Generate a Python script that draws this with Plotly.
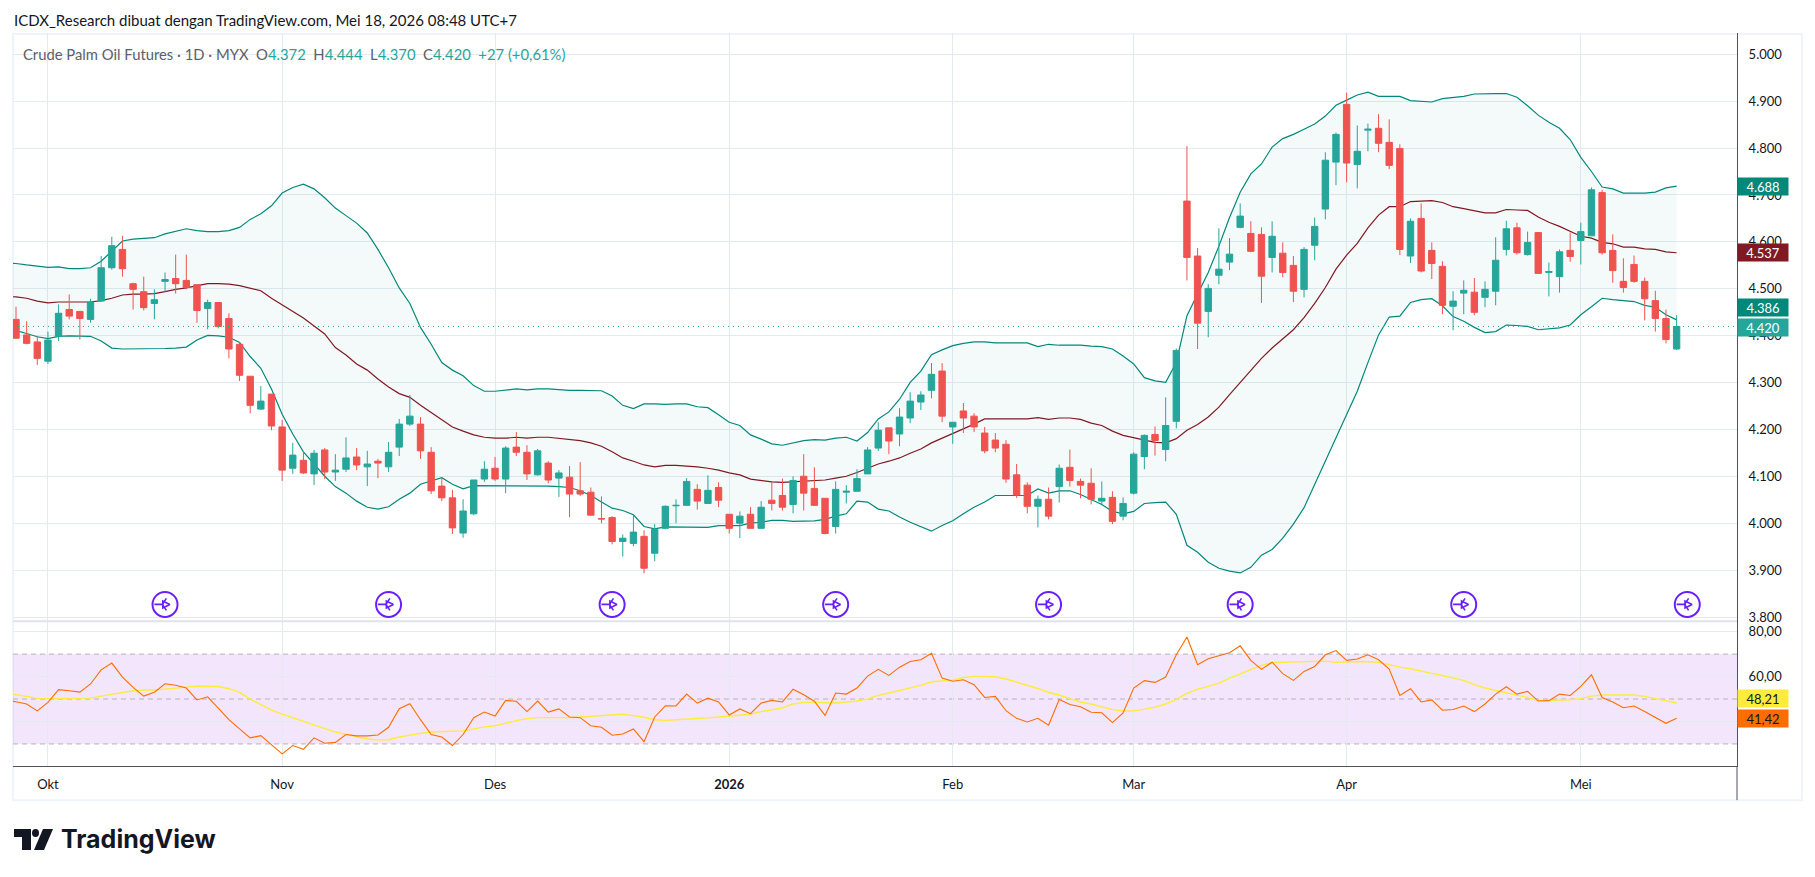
import plotly.graph_objects as go

W, H = 1815, 877
FONT = "Lato"
Y_STRETCH = 1.0035

# candles, values
open_p = [4435,4402,4387,4346,4399,4456,4452,4435,4474,4545,4584,4511,4494,4469,4516,4522,4518,4509,4458,4471,
          4437,4382,4314,4244,4276,4206,4118,4135,4106,4157,4110,4116,4142,4121,4133,4121,4163,4212,4212,4152,
          4080,4055,3980,4021,4095,4118,4095,4163,4152,4104,4129,4097,4099,4070,4067,4011,4013,3962,3958,3973,
          3937,3990,4038,4039,4073,4043,4077,4020,4001,4020,3990,4050,4060,4041,4101,4075,4054,3994,4067,4069,
          4106,4161,4204,4191,4225,4259,4284,4325,4206,4240,4229,4193,4178,4169,4104,4082,4037,4052,4079,4120,
          4090,4086,4048,4056,4016,4065,4143,4190,4158,4218,4687,4570,4452,4529,4557,4631,4618,4616,4567,4576,
          4550,4499,4593,4670,4770,4893,4765,4838,4842,4812,4799,4570,4650,4582,4548,4463,4491,4493,4482,4495,
          4584,4630,4573,4620,4535,4526,4582,4603,4613,4705,4582,4516,4552,4516,4475,4437,4372]
high_p = [4462,4431,4400,4409,4467,4488,4453,4479,4570,4611,4613,4513,4526,4499,4535,4573,4573,4509,4477,4471,
          4448,4387,4314,4293,4276,4221,4172,4152,4157,4161,4148,4184,4161,4155,4138,4174,4223,4274,4227,4163,
          4099,4072,4052,4093,4133,4142,4165,4195,4167,4159,4133,4114,4123,4131,4077,4058,4016,3977,4018,3986,
          3999,4039,4052,4097,4084,4103,4088,4020,4026,4035,4048,4088,4096,4101,4148,4120,4054,4090,4082,4116,
          4163,4216,4204,4246,4280,4282,4342,4342,4216,4257,4235,4206,4193,4178,4127,4088,4060,4077,4126,4158,
          4096,4118,4090,4069,4056,4152,4190,4207,4269,4373,4804,4587,4510,4629,4608,4682,4644,4631,4644,4599,
          4570,4589,4652,4791,4833,4918,4848,4852,4872,4861,4808,4650,4682,4599,4559,4495,4518,4523,4516,4610,
          4645,4641,4622,4620,4556,4584,4620,4641,4716,4711,4616,4565,4571,4524,4496,4456,4444]
low_p = [4393,4382,4338,4340,4389,4435,4392,4428,4472,4541,4526,4456,4454,4435,4494,4490,4499,4428,4414,4416,
         4352,4304,4235,4242,4199,4091,4106,4106,4082,4095,4091,4110,4114,4080,4097,4110,4144,4208,4138,4063,
         4048,3978,3970,4018,4089,4091,4065,4144,4093,4102,4086,4057,4014,4059,4018,4001,3956,3930,3952,3894,
         3920,3988,4001,4039,4030,4043,4035,3979,3969,3990,3990,4028,4028,4022,4028,4039,3977,3979,4043,4069,
         4106,4155,4148,4165,4214,4242,4267,4216,4170,4193,4195,4150,4152,4087,4055,4022,3992,4009,4045,4079,
         4054,4041,4041,3999,4007,4062,4116,4145,4133,4203,4518,4372,4397,4510,4540,4629,4578,4470,4535,4525,
         4472,4482,4561,4648,4721,4727,4714,4793,4791,4755,4572,4555,4535,4521,4446,4412,4446,4444,4461,4465,
         4571,4573,4571,4533,4484,4492,4558,4552,4613,4573,4513,4492,4513,4433,4409,4384,4370]
close_p = [4395,4384,4352,4391,4448,4442,4437,4472,4545,4592,4543,4499,4460,4477,4520,4511,4503,4454,4471,4420,
           4372,4316,4252,4261,4208,4114,4146,4108,4150,4110,4114,4140,4125,4127,4129,4152,4212,4229,4155,4070,
           4055,3991,4027,4093,4116,4095,4161,4152,4106,4155,4093,4108,4063,4063,4018,4010,3962,3969,3982,3905,
           3988,4037,4039,4090,4048,4071,4050,3990,4016,3990,4035,4043,4035,4092,4065,4039,3979,4073,4069,4096,
           4157,4199,4176,4227,4261,4274,4318,4229,4216,4225,4206,4155,4161,4095,4061,4037,4052,4016,4118,4092,
           4082,4052,4054,4005,4043,4148,4188,4177,4209,4369,4567,4427,4501,4542,4574,4655,4580,4527,4612,4535,
           4495,4584,4633,4774,4829,4768,4793,4840,4810,4763,4584,4644,4538,4554,4465,4474,4497,4450,4499,4561,
           4628,4577,4599,4533,4537,4579,4569,4622,4711,4577,4539,4503,4516,4479,4437,4392,4420]

# bollinger, first value belongs to the bar just left of the chart edge
bb_upper = [4555,4554,4551,4548,4546,4547,4543,4543,4545,4559,4580,4602,4606,4607,4609,4617,4623,4628,4624,4622,
            4622,4624,4631,4648,4660,4677,4704,4716,4723,4713,4694,4672,4656,4640,4619,4584,4545,4502,4469,4418,
            4382,4343,4327,4315,4294,4282,4282,4285,4287,4285,4287,4287,4285,4284,4284,4284,4283,4272,4252,4245,
            4255,4255,4254,4255,4255,4249,4247,4232,4216,4209,4189,4180,4170,4167,4172,4177,4179,4178,4182,4184,
            4176,4194,4223,4238,4265,4301,4325,4360,4370,4379,4384,4387,4387,4385,4385,4385,4385,4377,4382,4380,
            4380,4380,4378,4377,4372,4357,4340,4311,4304,4301,4343,4443,4489,4535,4591,4652,4706,4745,4766,4802,
            4820,4829,4840,4851,4868,4891,4902,4913,4919,4910,4910,4910,4901,4899,4898,4905,4908,4910,4915,4916,
            4916,4916,4908,4890,4870,4855,4842,4818,4780,4750,4717,4713,4704,4704,4704,4706,4715,4719]
bb_basis = [4484,4483,4480,4474,4470,4472,4472,4472,4472,4475,4480,4487,4489,4489,4490,4494,4499,4502,4507,4511,
            4511,4510,4507,4501,4496,4480,4466,4453,4438,4421,4404,4375,4359,4340,4327,4308,4291,4277,4269,4252,
            4237,4221,4206,4197,4189,4184,4182,4182,4184,4182,4184,4184,4182,4179,4177,4172,4165,4153,4140,4133,
            4125,4121,4124,4124,4123,4121,4118,4114,4108,4104,4095,4092,4089,4088,4089,4091,4092,4093,4097,4101,
            4109,4118,4127,4133,4140,4150,4159,4172,4182,4191,4201,4212,4223,4223,4223,4223,4223,4226,4222,4225,
            4225,4222,4214,4209,4197,4188,4183,4177,4173,4172,4181,4199,4211,4227,4248,4275,4300,4327,4352,4374,
            4394,4413,4439,4469,4503,4542,4572,4597,4630,4657,4675,4675,4686,4687,4688,4684,4675,4671,4667,4662,
            4662,4669,4668,4667,4653,4642,4633,4623,4612,4608,4599,4596,4589,4589,4585,4584,4579,4577]
bb_lower = [4412,4411,4405,4398,4394,4399,4400,4400,4399,4389,4374,4372,4372,4372,4373,4373,4374,4376,4391,4401,
            4400,4397,4386,4356,4331,4287,4233,4191,4153,4126,4101,4079,4065,4048,4035,4031,4036,4052,4065,4084,
            4091,4098,4084,4074,4081,4081,4080,4080,4081,4080,4081,4080,4079,4077,4070,4060,4046,4033,4028,4019,
            3994,3989,3993,3993,3993,3992,3992,3996,3996,3996,4001,4003,4007,4007,4005,4005,4006,4009,4016,4021,
            4048,4046,4031,4027,4014,4003,3994,3984,3996,4006,4021,4035,4046,4060,4060,4060,4060,4074,4065,4070,
            4070,4062,4052,4041,4026,4021,4026,4043,4045,4046,4020,3954,3939,3918,3905,3899,3895,3907,3933,3945,
            3969,3999,4034,4084,4133,4183,4233,4282,4343,4402,4440,4442,4471,4477,4479,4464,4441,4431,4418,4407,
            4409,4423,4422,4420,4413,4415,4417,4423,4445,4462,4480,4477,4475,4473,4465,4461,4445,4434]

# rsi pane
rsi = [49.3,48.8,47.8,44.7,48.5,54.2,53.7,53.1,56.7,63.0,66.0,59.8,55.2,51.3,53.0,56.8,56.1,54.9,49.6,51.0,
       46.0,40.8,36.7,32.7,33.7,29.7,25.6,29.3,27.6,32.7,30.3,30.7,34.2,33.6,33.6,34.0,37.4,45.7,47.9,40.8,
       34.2,33.1,29.3,34.2,41.7,44.2,42.4,49.4,49.0,44.4,49.1,44.2,45.6,42.0,41.7,38.1,37.4,33.9,34.4,36.7,
       31.0,42.0,47.0,46.9,52.2,48.2,50.4,48.7,42.9,45.6,43.5,48.2,49.4,48.7,54.4,51.9,49.0,42.7,52.7,52.2,
       54.9,60.2,63.2,60.5,64.2,66.7,67.5,70.4,59.3,57.9,58.6,56.4,50.7,51.2,44.8,41.4,39.8,41.4,38.3,49.8,
       47.6,46.6,44.1,43.9,39.5,43.8,54.9,58.2,57.4,59.8,69.7,77.6,65.3,67.9,69.4,70.6,73.7,67.2,63.2,66.4,
       61.3,58.3,62.3,64.5,69.7,71.6,67.2,67.8,69.7,67.5,63.3,51.6,54.6,48.7,49.6,45.0,45.3,46.9,44.4,47.8,
       52.2,55.5,52.2,53.4,49.1,49.3,52.2,51.6,55.6,60.8,50.7,48.7,46.1,46.9,44.4,41.7,39.2,41.42]
rsi_ma = [52.2,51.9,51.2,50.3,50.2,50.2,50.3,50.3,50.4,51.3,52.2,52.8,53.7,54.0,54.0,54.4,54.7,55.3,55.8,55.8,
          55.6,54.6,53.0,50.0,47.5,45.1,43.3,41.7,40.1,38.4,36.8,35.3,34.3,33.3,32.2,31.8,31.9,33.1,34.0,34.7,
          35.3,35.5,35.6,35.8,36.7,37.6,38.1,39.3,40.4,41.3,41.7,41.7,41.6,41.7,42.0,42.3,42.7,43.2,43.2,42.6,
          41.9,40.8,40.5,40.8,41.0,41.1,41.6,42.0,42.3,42.6,43.2,44.4,45.3,46.0,47.8,48.5,48.5,48.2,48.2,48.7,
          49.1,50.0,51.6,52.7,53.8,54.9,56.1,57.7,58.0,58.4,59.6,60.1,60.1,59.9,58.9,57.6,56.2,54.7,52.9,51.8,
          50.2,48.7,47.8,46.6,45.3,44.7,44.8,45.4,46.4,47.8,49.8,52.5,54.4,55.6,57.1,59.3,61.1,63.0,65.0,66.3,
          66.4,66.6,66.9,67.0,66.9,66.4,66.6,66.7,66.6,66.3,65.3,64.2,63.5,62.3,61.4,60.5,59.3,58.3,56.4,54.9,
          53.8,52.8,51.6,50.7,49.4,49.3,49.6,49.7,50.2,51.3,51.8,51.8,51.8,51.8,51.2,50.2,49.3,48.21]

assert len(open_p) == len(high_p) == len(low_p) == len(close_p) == 157
assert len(bb_upper) == len(bb_basis) == len(bb_lower) == len(rsi) == len(rsi_ma) == 158

month_bars = [3, 25, 45, 67, 88, 105, 125, 147]
month_labels = ["Okt", "Nov", "Des", "<b>2026</b>", "Feb", "Mar", "Apr", "Mei"]
price_ticks = [5000, 4900, 4800, 4700, 4600, 4500, 4400, 4300, 4200, 4100, 4000, 3900, 3800]
price_labels = ["5.000", "4.900", "4.800", "4.700", "4.600", "4.500", "4.400", "4.300", "4.200", "4.100", "4.000", "3.900", "3.800"]
rsi_ticks = [80, 60, 40, 20]
rsi_labels = ["80,00", "60,00", "", ""]
rsi_levels = [70, 50, 30]
split_bars = [14, 35, 56, 77, 97, 115, 136, 157]
split_price = 3828


def px(x):
    return x / W


def py(y):
    return 1 - y * Y_STRETCH / H


bars = list(range(len(close_p)))
line_bars = list(range(-1, len(close_p)))

fig = go.Figure()
fig.add_trace(go.Scatter(x=line_bars, y=bb_upper, mode="lines", line=dict(color="#00897b", width=1.2), yaxis="y", xaxis="x"))
fig.add_trace(go.Scatter(x=line_bars, y=bb_lower, mode="lines", line=dict(color="#00897b", width=1.2),
                         fill="tonexty", fillcolor="rgba(0,137,123,0.045)", yaxis="y", xaxis="x"))
fig.add_trace(go.Scatter(x=line_bars, y=bb_basis, mode="lines", line=dict(color="#801922", width=1.2), yaxis="y", xaxis="x"))
fig.add_trace(go.Candlestick(x=bars, open=open_p, high=high_p, low=low_p, close=close_p, whiskerwidth=0,
                             increasing=dict(line=dict(color="#26a69a", width=1), fillcolor="#26a69a"),
                             decreasing=dict(line=dict(color="#ef5350", width=1), fillcolor="#ef5350"),
                             yaxis="y3", xaxis="x"))
fig.add_trace(go.Scatter(x=line_bars, y=rsi_ma, mode="lines", line=dict(color="#ffeb3b", width=1.4), yaxis="y2", xaxis="x2"))
fig.add_trace(go.Scatter(x=line_bars, y=rsi, mode="lines", line=dict(color="#ff6d00", width=1.1), yaxis="y2", xaxis="x2"))

# the purple split icons
split_y = [split_price] * len(split_bars)
fig.add_trace(go.Scatter(x=split_bars, y=split_y, mode="markers", yaxis="y3", xaxis="x",
                         marker=dict(symbol="circle-open", size=25, color="#6a1fff", line=dict(color="#6a1fff", width=2))))
fig.add_trace(go.Scatter(x=[b - 0.25 for b in split_bars], y=split_y, mode="markers", yaxis="y3", xaxis="x",
                         marker=dict(symbol="y-left", size=10, color="#6a1fff", line=dict(color="#6a1fff", width=1.6))))
fig.add_trace(go.Scatter(x=[b + 0.45 for b in split_bars], y=split_y, mode="markers", yaxis="y3", xaxis="x",
                         marker=dict(symbol="arrow-right-open", size=7, color="#6a1fff", line=dict(color="#6a1fff", width=1.6))))

x_left = (13 - 16) / 10.645
x_right = (1737 - 16) / 10.645
grid = "#e3ebf1"
tick_font = dict(family=FONT, size=13, color="#131722")

shapes = [
    dict(type="rect", xref="paper", yref="paper", x0=px(13), x1=px(1802), y0=py(34), y1=py(801),
         line=dict(color="#f0f3fa", width=2), layer="below"),
    dict(type="rect", xref="paper", yref="y2", x0=px(13), x1=px(1737), y0=rsi_levels[2], y1=rsi_levels[0],
         fillcolor="rgba(155,39,222,0.12)", line=dict(width=0), layer="below"),
    dict(type="line", xref="paper", yref="paper", x0=px(13), x1=px(1737), y0=py(622), y1=py(622),
         line=dict(color="#e0e3eb", width=2)),
    dict(type="line", xref="paper", yref="paper", x0=px(1737), x1=px(1737), y0=py(767), y1=py(801),
         line=dict(color="#50535e", width=1)),
    dict(type="line", xref="paper", yref="y3", x0=px(13), x1=px(1737), y0=close_p[-1], y1=close_p[-1],
         line=dict(color="#26a69a", width=1, dash="1px 4px")),
    # tradingview logo
    dict(type="path", xref="paper", yref="paper", line=dict(width=0), fillcolor="#131722",
         path=f"M{px(14)},{py(830)} L{px(31)},{py(830)} L{px(31)},{py(851)} L{px(22)},{py(851)} L{px(22)},{py(838)} L{px(14)},{py(838)} Z"),
    dict(type="circle", xref="paper", yref="paper", x0=px(32), x1=px(39), y0=py(838), y1=py(830), line=dict(width=0), fillcolor="#131722"),
    dict(type="path", xref="paper", yref="paper", line=dict(width=0), fillcolor="#131722",
         path=f"M{px(43)},{py(830)} L{px(53)},{py(830)} L{px(44)},{py(851)} L{px(34)},{py(851)} Z"),
]
for level in rsi_levels:
    shapes.append(dict(type="line", xref="paper", yref="y2", x0=px(13), x1=px(1737), y0=level, y1=level,
                       line=dict(color="#b6b2bc", width=1, dash="5px 4px"), layer="below"))

gap = "\u00a0\u00a0"
header = (f'<span style="color:#5d606b">Crude Palm Oil Futures · 1D · MYX{gap}O</span><span style="color:#26a69a">4.372</span>'
          f'<span style="color:#5d606b">{gap}H</span><span style="color:#26a69a">4.444</span>'
          f'<span style="color:#5d606b">{gap}L</span><span style="color:#26a69a">4.370</span>'
          f'<span style="color:#5d606b">{gap}C</span><span style="color:#26a69a">4.420</span>'
          f'<span style="color:#26a69a">{gap}+27 (+0,61%)</span>')

annotations = [
    dict(xref="paper", yref="paper", x=px(12), y=py(20), xanchor="left", yanchor="middle", showarrow=False,
         text="ICDX_Research dibuat dengan TradingView.com, Mei 18, 2026 08:48 UTC+7",
         font=dict(family=FONT, size=15, color="#131722")),
    dict(xref="paper", yref="paper", x=px(21), y=py(54), xanchor="left", yanchor="middle", showarrow=False,
         text=header, font=dict(family=FONT, size=14.8)),
    dict(xref="paper", yref="paper", x=px(59), y=py(840), xanchor="left", yanchor="middle", showarrow=False,
         text="<b>TradingView</b>", font=dict(family="Inter", size=25, color="#131722")),
]

label_texts = ["4.688", "4.537", "4.386", "4.420", "48,21", "41,42"]
label_rows = [187, 253, 308, 328, 699, 719]
label_bg = ["#00897b", "#801922", "#00897b", "#26a69a", "#ffeb3b", "#ff6d00"]
label_fg = ["#ffffff", "#ffffff", "#ffffff", "#ffffff", "#131722", "#131722"]
for text, row, bg, fg in zip(label_texts, label_rows, label_bg, label_fg):
    annotations.append(dict(xref="paper", yref="paper", x=px(1737), y=py(row), xanchor="left", yanchor="middle",
                            showarrow=False, text=text, bgcolor=bg, width=50, height=17, borderpad=0,
                            font=dict(family=FONT, size=13, color=fg)))

fig.update_layout(
    width=W, height=H, margin=dict(l=0, r=0, t=0, b=0), paper_bgcolor="white", plot_bgcolor="white",
    showlegend=False, hovermode=False, boxgap=0.4, boxgroupgap=0, shapes=shapes, annotations=annotations,
    xaxis=dict(domain=[px(13), px(1737)], range=[x_left, x_right], anchor="y", showticklabels=False,
               showgrid=True, gridcolor=grid, tickvals=month_bars, zeroline=False, rangeslider=dict(visible=False)),
    xaxis2=dict(domain=[px(13), px(1737)], range=[x_left, x_right], anchor="y2", matches="x", showgrid=True,
                gridcolor=grid, tickvals=month_bars, ticktext=month_labels, tickfont=tick_font, zeroline=False,
                showline=True, linecolor="#50535e", ticks="outside", ticklen=6, tickcolor="rgba(0,0,0,0)"),
    yaxis=dict(domain=[py(622), py(33)], range=[3792, 5045], anchor="x", side="right", tickvals=price_ticks,
               ticktext=price_labels, tickfont=tick_font, showgrid=True, gridcolor=grid, zeroline=False,
               showline=True, linecolor="#50535e", ticks="outside", ticklen=8, tickcolor="rgba(0,0,0,0)"),
    yaxis3=dict(range=[3792, 5045], overlaying="y", side="right", showticklabels=False, showgrid=False, zeroline=False),
    yaxis2=dict(domain=[py(767), py(622)], range=[20.1, 84.6], anchor="x2", side="right", tickvals=rsi_ticks,
                ticktext=rsi_labels, tickfont=tick_font, showgrid=True, gridcolor=grid, zeroline=False,
                showline=True, linecolor="#50535e", ticks="outside", ticklen=8, tickcolor="rgba(0,0,0,0)"),
)

fig.write_html("out.html", config=dict(displayModeBar=False),
               post_script="document.body.style.margin='0';document.documentElement.style.overflow='hidden';")
